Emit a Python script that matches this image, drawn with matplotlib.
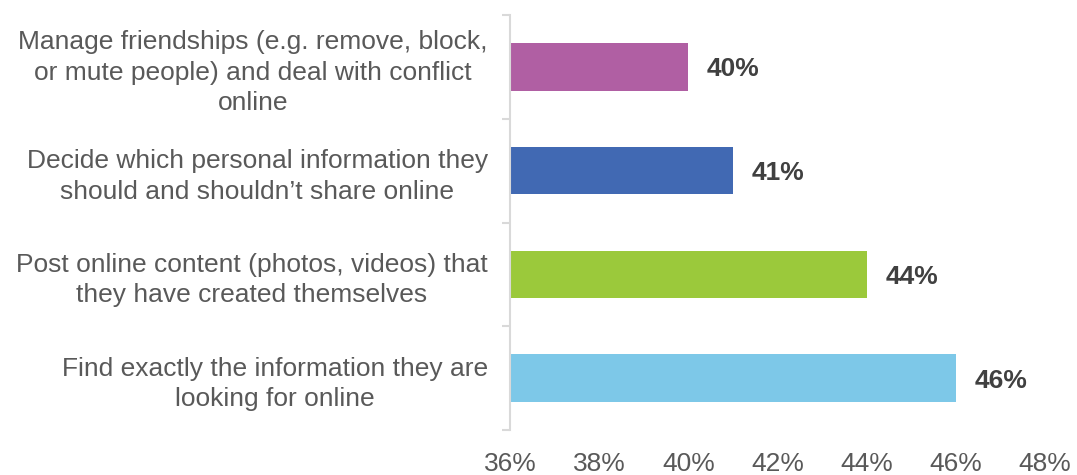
import matplotlib
matplotlib.use("Agg")
import matplotlib.pyplot as plt
from matplotlib.ticker import FixedLocator

categories = [
    "Manage friendships (e.g. remove, block,\nor mute people) and deal with conflict\nonline",
    "Decide which personal information they\nshould and shouldn\u2019t share online",
    "Post online content (photos, videos) that\nthey have created themselves",
    "Find exactly the information they are\nlooking for online",
]
values = [40, 41, 44, 46]
colors = ["#B05FA3", "#4169B3", "#9BC93B", "#7DC8E8"]
x_ticks = [36, 38, 40, 42, 44, 46, 48]
x_tick_labels = [f"{t}%" for t in x_ticks]

plt.rcParams["font.family"] = ["Liberation Sans", "DejaVu Sans"]

fig = plt.figure(figsize=(10.77, 4.75), dpi=100)
ax = fig.add_axes([510 / 1077, 45 / 475, 535 / 1077, 415 / 475])

y = list(range(len(categories)))
ax.barh(y, values, left=0, height=0.46, color=colors, zorder=2)
ax.set_ylim(len(categories) - 0.5, -0.5)
ax.set_xlim(36, 48)

# value labels, nudged so the digits sit centred on each bar
for yi, v in zip(y, values):
    ax.text(v + 0.42, yi + 0.025, f"{v}%", va="center", ha="left",
            fontsize=19, fontweight="bold", color="#404040")

ax.set_xticks(x_ticks)
ax.set_xticklabels(x_tick_labels, fontsize=19, color="#595959")
ax.tick_params(axis="x", length=0, pad=16)

ax.set_yticks(y)
ax.set_yticklabels(categories, fontsize=19, color="#595959",
                   ha="right", multialignment="center", linespacing=1.34)
ax.tick_params(axis="y", which="major", length=0, pad=16)
ax.yaxis.set_minor_locator(FixedLocator([i - 0.5 for i in range(len(categories) + 1)]))
ax.tick_params(axis="y", which="minor", length=6, width=1.5, color="#D9D9D9")

for side in ["top", "right", "bottom"]:
    ax.spines[side].set_visible(False)
ax.spines["left"].set_color("#D9D9D9")
ax.spines["left"].set_linewidth(1.5)

fig.savefig("out.png", dpi=100)
